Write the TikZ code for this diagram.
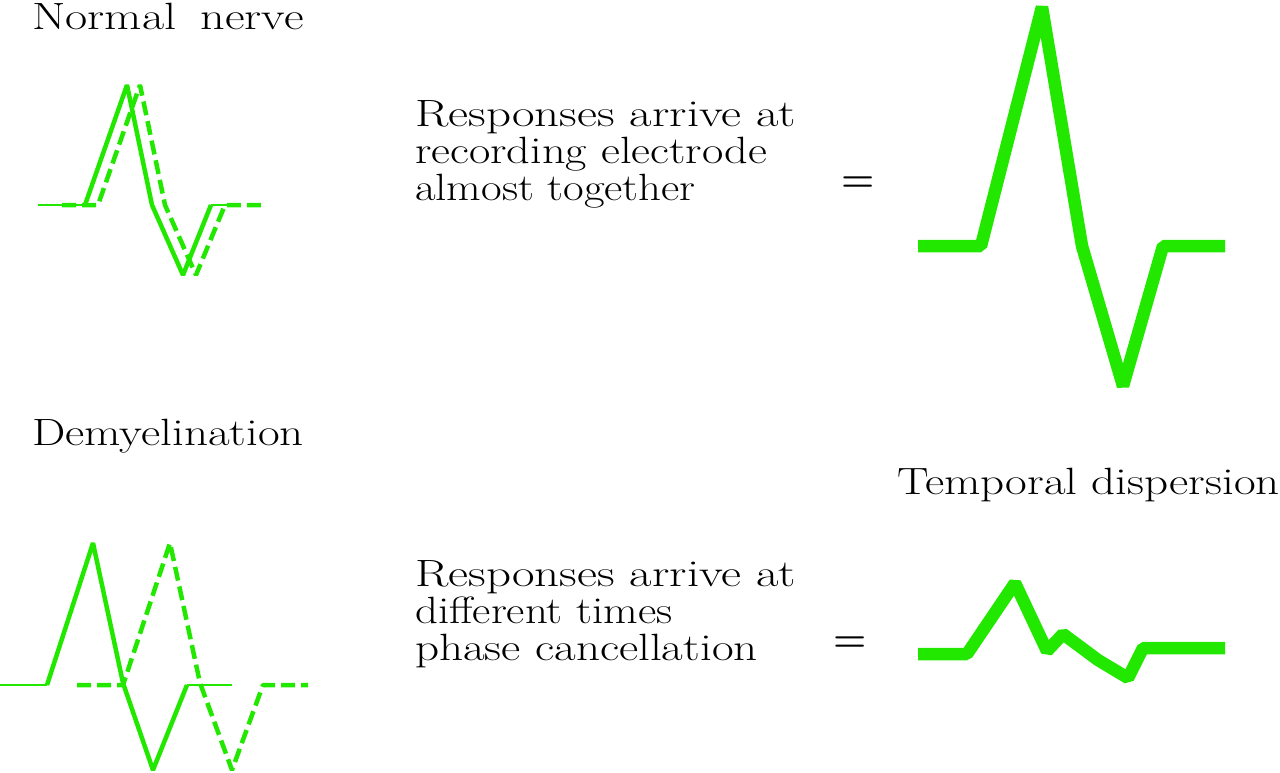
\documentclass[tikz,border=0pt]{standalone}
\usepackage{graphicx}
\definecolor{nervegreen}{RGB}{34,232,0}
\newcommand{\wide}[2][1.2]{\scalebox{#1}[1]{#2}}
\tikzset{
  caption text/.style={anchor=base west, inner sep=0pt, font=\fontsize{38}{40}\selectfont},
  equals sign/.style={anchor=base, inner sep=0pt, font=\fontsize{38}{40}\selectfont\bfseries},
  trace/.style={nervegreen, line width=4.5pt, line join=bevel},
  flat trace/.style={nervegreen, line width=2.5pt},
  delayed trace/.style={trace, dash pattern=on 14pt off 6pt},
  sum trace/.style={nervegreen, line width=12.5pt, line join=bevel},
}
\begin{document}
\begin{tikzpicture}[x=1pt,y=-1pt]
\useasboundingbox (0,0) rectangle (1280,772);

% normal nerve
\node[caption text] (normal) at (32,29) {\wide[1.27]{Normal\hspace{0.5em}nerve}};
\draw[flat trace] (38,205) -- (85,205);
\draw[trace] (85,205) -- (127,85) -- (152,205) -- (183,275) -- (211,205);
\draw[flat trace] (211,205) -- (240,205);
\draw[delayed trace] (62,205) -- (98,205) -- (140,85) -- (165,205) -- (196,275) -- (225,205) -- (262,205);

\node[caption text] (top1) at (415,126) {\wide[1.29]{Responses arrive at}};
\node[caption text] (top2) at (415,163) {\wide[1.22]{recording electrode}};
\node[caption text] (top3) at (415,200) {\wide[1.18]{almost together}};
\node[equals sign] (eqtop) at (858,191) {=};

\draw[sum trace] (918,246) -- (981,246) -- (1042,7) -- (1082,246) -- (1123,386) -- (1163,246) -- (1225,246);

% demyelination
\node[caption text] (demyel) at (32,445) {\wide[1.24]{Demyelination}};
\draw[flat trace] (0,685) -- (47,685);
\draw[trace] (47,685) -- (93,543) -- (123,683) -- (153,770) -- (187,685);
\draw[flat trace] (187,685) -- (232,685);
\draw[delayed trace] (77,685) -- (123,685) -- (170,543) -- (200,683) -- (232,770) -- (263,685) -- (308,685);

\node[caption text] (bot1) at (415,586) {\wide[1.29]{Responses arrive at}};
\node[caption text] (bot2) at (415,623) {\wide[1.18]{different times}};
\node[caption text] (bot3) at (415,660) {\wide[1.24]{phase cancellation}};
\node[equals sign] (eqbot) at (850,651) {=};

\node[caption text] (dispersion) at (897,494) {\wide[1.24]{Temporal dispersion}};
\draw[sum trace] (918,654) -- (967,654) -- (1015,583) -- (1047,651) -- (1063,634) -- (1098,660) -- (1128,678) -- (1143,648) -- (1225,648);
\end{tikzpicture}
\end{document}
